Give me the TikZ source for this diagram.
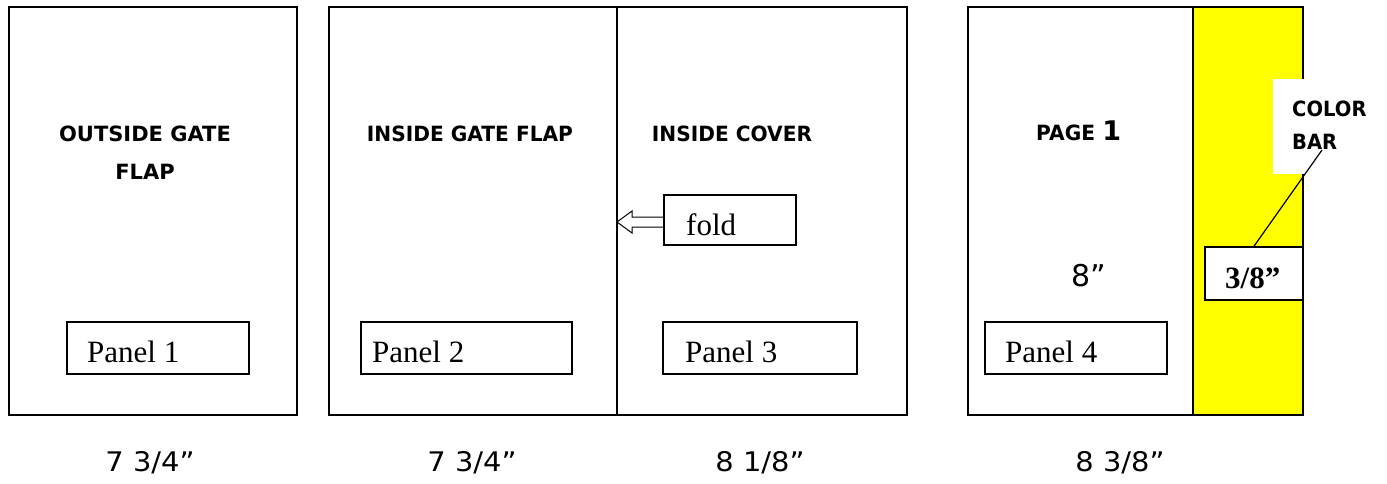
\documentclass[tikz,border=0pt]{standalone}
\usepackage{fontspec}
\setmainfont{Liberation Serif}
\newfontfamily\hsans{DejaVu Sans}
\usetikzlibrary{calc}
\definecolor{cbar}{RGB}{255,255,0}
\begin{document}
\begin{tikzpicture}[x=1pt,y=-1pt,
  frame/.style={draw=black,line width=2pt},
  pbox/.style={draw=black,line width=1.6pt,minimum height=52pt,inner sep=0pt},
  hdrbig/.style={font=\hsans\bfseries\fontsize{21}{25}\selectfont,inner sep=0pt},
  dimlab/.style={font=\hsans\fontsize{27}{30}\selectfont,inner sep=0pt},
  ser/.style={font=\fontsize{31}{36}\selectfont,inner sep=0pt}
]
\useasboundingbox (0,0) rectangle (1387,483);

% panel sheets
\fill[cbar] (1193,7) rectangle (1303,415);
\draw[frame] (9,7) rectangle (297,415);
\draw[frame] (329,7) rectangle (907,415);
\draw[frame] (968,7) rectangle (1303,415);
\coordinate (dtop) at (617,7);
\coordinate (dbot) at (617,415);
\draw[line width=1.5pt] (dtop) -- (dbot);
\draw[line width=1.5pt] (1193,7) -- (1193,415);

% white label area for colour bar
\fill[white] (1273,79) rectangle (1380,174);

% headings
\node[hdrbig,anchor=base] (h1a) at (145,141) {OUTSIDE GATE};
\node[hdrbig,anchor=base] (h1b) at (145,179) {FLAP};
\node[hdrbig,anchor=base] (h2) at (470,141) {\scalebox{0.96}[1]{INSIDE GATE FLAP}};
\node[hdrbig,anchor=base] (h3) at (732,141) {\scalebox{0.96}[1]{INSIDE COVER}};
\node[hdrbig,anchor=base west] (h4) at (1036,140) {\scalebox{0.96}[1]{PAGE} \fontsize{27}{30}\selectfont 1};
\node[hdrbig,anchor=base west] (cb1) at (1292,116) {\scalebox{0.93}[1]{COLOR}};
\node[hdrbig,anchor=base west] (cb2) at (1292,149) {\scalebox{0.93}[1]{BAR}};

% panel boxes
\node[pbox,minimum width=182pt] (p1) at (158,348) {};
\node[ser,anchor=base west] (t1) at (87,362) {Panel 1};
\node[pbox,minimum width=211pt] (p2) at (466.5,348) {};
\node[ser,anchor=base west] (t2) at (372,362) {Panel 2};
\node[pbox,minimum width=194pt] (p3) at (760,348) {};
\node[ser,anchor=base west] (t3) at (685,362) {Panel 3};
\node[pbox,minimum width=182pt] (p4) at (1076,348) {};
\node[ser,anchor=base west] (t4) at (1005,362) {Panel 4};

% fold box and arrow
\node[pbox,minimum width=132pt,minimum height=50pt] (fold) at (730,220) {};
\node[ser,anchor=base west] (foldt) at (686,235) {fold};
\coordinate (ftip) at (617,222);
\draw[line width=1pt]
  ($(fold.west)+(0,-3)$) -- ($(ftip)+(15,-5)$) -- ($(ftip)+(15,-11)$) -- (ftip)
  -- ($(ftip)+(15,11)$) -- ($(ftip)+(15,5)$) -- ($(fold.west)+(0,7)$);

% 8" and 3/8"
\node[font=\hsans\fontsize{30}{34}\selectfont,inner sep=0pt,anchor=base west] (eight) at (1071,286) {8”};
\node[pbox,fill=white,minimum width=98pt,minimum height=53pt] (cbw) at (1254,273.5) {};
\node[ser,font=\bfseries\fontsize{31}{36}\selectfont,anchor=base west] (cbwt) at (1225,288) {3/8”};
\coordinate (lead) at (1322,150);
\draw[line width=1.2pt] (lead) -- (cbw.north);

% dimension labels
\node[dimlab,anchor=base] (d1) at (150,471) {\scalebox{1.07}[1]{7 3/4”}};
\node[dimlab,anchor=base] (d2) at (472,471) {\scalebox{1.07}[1]{7 3/4”}};
\node[dimlab,anchor=base] (d3) at (760,471) {\scalebox{1.07}[1]{8 1/8”}};
\node[dimlab,anchor=base] (d4) at (1120,471) {\scalebox{1.07}[1]{8 3/8”}};
\end{tikzpicture}
\end{document}
